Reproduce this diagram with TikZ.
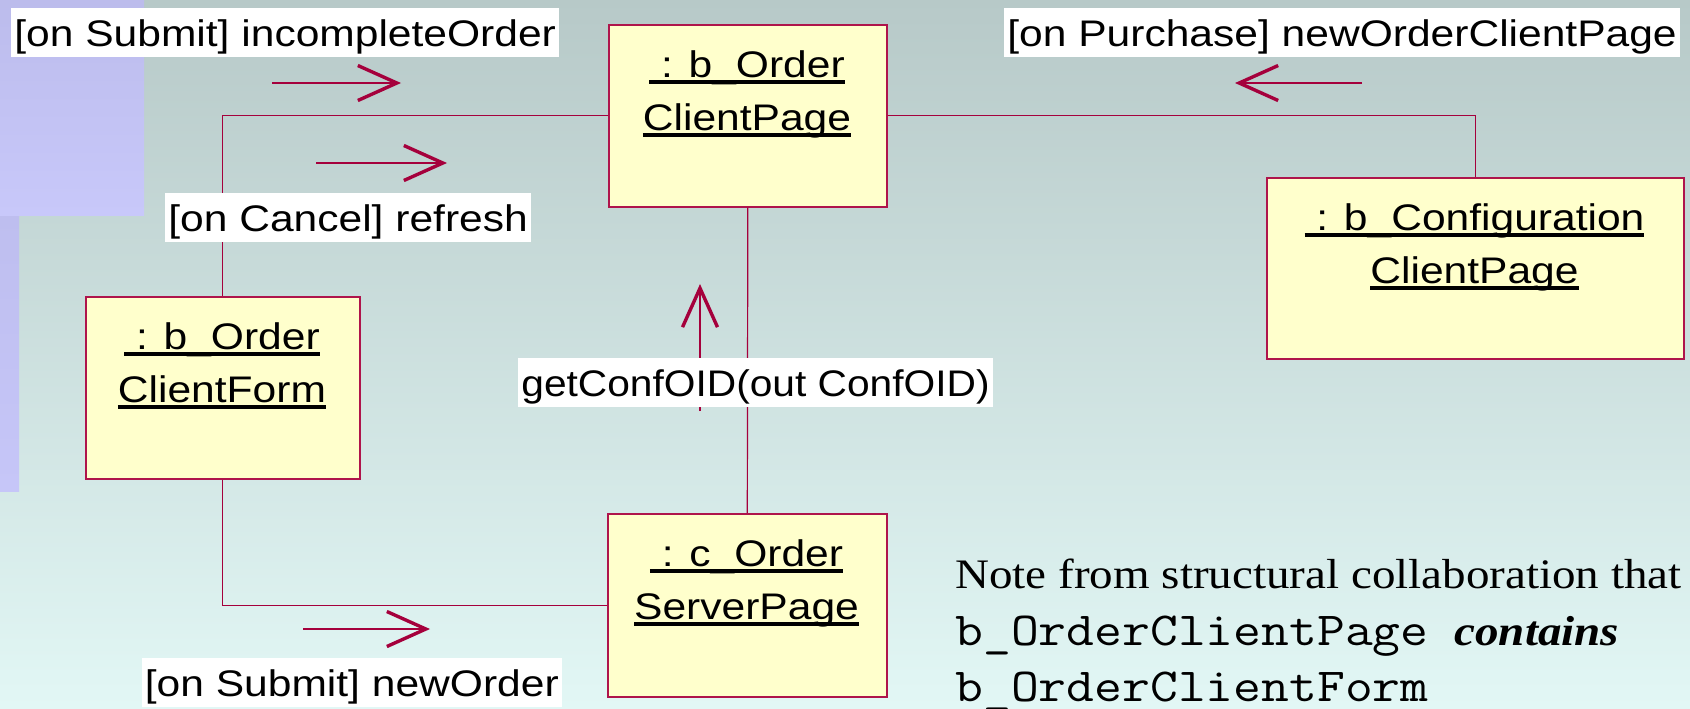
\documentclass[tikz,border=0pt]{standalone}
\usepackage{fontspec}
\newfontfamily\umlfont[FakeStretch=1.15]{Liberation Sans}
\newfontfamily\umlfontn[FakeStretch=1.1]{Liberation Sans}
\newfontfamily\notefont[FakeStretch=1.12]{Liberation Serif}
\newfontfamily\codefont[FakeStretch=1.14]{Latin Modern Mono}
\usetikzlibrary{arrows.meta}
\definecolor{bgtop}{RGB}{183,201,200}
\definecolor{bgbot}{RGB}{226,247,245}
\definecolor{lavA}{RGB}{184,184,232}
\definecolor{lavB}{RGB}{198,198,248}
\definecolor{lavC}{RGB}{200,200,250}
\definecolor{lavD}{RGB}{188,188,236}
\definecolor{crim}{RGB}{165,0,60}
\definecolor{boxline}{RGB}{175,20,75}
\definecolor{boxfill}{RGB}{255,255,204}
\newcommand\ulbox[1]{\setbox0\hbox{#1}\rlap{\rule[-3.4pt]{\wd0}{1.8pt}}\box0}
\newcommand\umlsize{\umlfont\fontsize{18.5pt}{22pt}\selectfont}
\begin{document}
\begin{tikzpicture}[x=0.5pt,y=-0.5pt,
  obj/.style={draw=boxline, fill=boxfill, line width=0.8pt, rectangle, inner sep=0pt, anchor=north west},
  objtext/.style={font=\umlsize, inner sep=0pt, anchor=base},
  msglabel/.style={fill=white, font=\umlsize, inner xsep=1.5pt, inner ysep=0pt, text height=19.35pt, text depth=5.15pt, anchor=base west},
  conn/.style={draw=crim, line width=0.6pt},
  msg/.style={draw=crim, line width=0.6pt, -{Straight Barb[length=19.5pt,width=17.5pt,line width=1.7pt]}},
  notetext/.style={anchor=base west, inner sep=0pt, font=\notefont\fontsize{21pt}{25pt}\selectfont}]
\useasboundingbox (0,0) rectangle (1690,708);
% background
\shade[top color=bgtop,bottom color=bgbot] (0,0) rectangle (1690,708);
\shade[top color=lavA,bottom color=lavB] (0,0) rectangle (19,491);
\shade[top color=lavD,bottom color=lavC] (0,0) rectangle (144,215);

% objects
\node[obj, minimum width=139pt, minimum height=91pt] (cp) at (608,24) {};
\node[obj, minimum width=208.5pt, minimum height=90.5pt] (cfg) at (1266,177) {};
\node[obj, minimum width=137pt, minimum height=91pt] (cf) at (85,296) {};
\node[obj, minimum width=139.5pt, minimum height=91.5pt] (sp) at (607,513) {};

% links
\draw[conn] (cp.west) -| (cf.north);
\draw[conn] (cp.east) -| (cfg.north);
\draw[conn] (cp.south) -- (sp.north);
\draw[conn] (cf.south) |- (sp.west);

% object names
\node[objtext] (cpA) at (747,77) {\ulbox{\ : b\_Order}};
\node[objtext] (cpB) at (747,130) {\ulbox{ClientPage}};
\node[objtext] (cfgA) at (1474.5,230) {\ulbox{\ : b\_Configuration}};
\node[objtext] (cfgB) at (1474.5,283) {\ulbox{ClientPage}};
\node[objtext] (cfA) at (222,349) {\ulbox{\ : b\_Order}};
\node[objtext] (cfB) at (222,402) {\ulbox{ClientForm}};
\node[objtext] (spA) at (746.5,566) {\ulbox{\ : c\_Order}};
\node[objtext] (spB) at (746.5,619) {\ulbox{ServerPage}};

% message arrows
\coordinate (a1s) at (272,83);  \coordinate (a1e) at (401,83);
\coordinate (a2s) at (316,163); \coordinate (a2e) at (447,163);
\coordinate (a3s) at (1362,83); \coordinate (a3e) at (1235,83);
\coordinate (a4s) at (303,629); \coordinate (a4e) at (430,629);
\coordinate (a5s) at (700,411); \coordinate (a5e) at (700,284);
\draw[msg] (a1s) -- (a1e);
\draw[msg] (a2s) -- (a2e);
\draw[msg] (a3s) -- (a3e);
\draw[msg] (a4s) -- (a4e);
\draw[msg] (a5s) -- (a5e);

% message labels
\node[msglabel] (l1) at (11,46.7) {[on Submit] incompleteOrder};
\node[msglabel] (l2) at (165,231.7) {[on Cancel] refresh};
\node[msglabel] (l3) at (1004,46.7) {[on Purchase] newOrderClientPage};
\node[msglabel, font=\umlfontn\fontsize{18.5pt}{22pt}\selectfont] (l4) at (518,396.7) {getConfOID(out ConfOID)};
\node[msglabel] (l5) at (141.5,696.7) {[on Submit] newOrder};

% note
\node[notetext] (n1) at (955,588) {Note from structural collaboration that};
\node[notetext] (n2) at (955,645) {{\codefont\fontsize{23.7pt}{28pt}\selectfont b\_OrderClientPage}\hspace{13pt}{\bfseries\itshape contains}};
\node[notetext] (n3) at (955,701) {{\codefont\fontsize{23.7pt}{28pt}\selectfont b\_OrderClientForm}};
\end{tikzpicture}
\end{document}
